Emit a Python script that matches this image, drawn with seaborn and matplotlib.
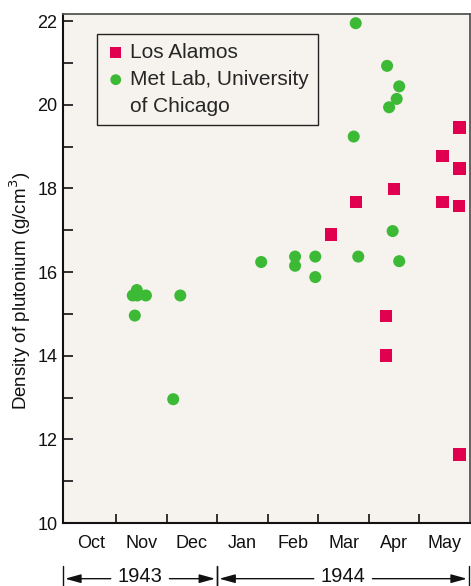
import matplotlib
matplotlib.use("Agg")
import matplotlib.pyplot as plt
import numpy as np
import pandas as pd
import seaborn as sns
from matplotlib.lines import Line2D

# x positions are in months: 0 = start of Oct 1943, 1 = start of Nov, ... 8 = end of May 1944
MONTHS = ["Oct", "Nov", "Dec", "Jan", "Feb", "Mar", "Apr", "May"]

los_alamos_x = [5.25, 5.75, 6.34, 6.34, 6.50, 7.46, 7.46, 7.79, 7.79, 7.78, 7.79]
los_alamos_y = [16.90, 17.68, 14.95, 14.00, 17.98, 18.78, 17.67, 19.46, 18.48, 17.58, 11.64]

metlab_x = [1.33, 1.41, 1.42, 1.59, 1.37, 2.27, 2.13, 3.87, 4.54, 4.54, 4.94, 4.94,
            5.70, 5.74, 5.79, 6.36, 6.40, 6.47, 6.55, 6.60, 6.60]
metlab_y = [15.44, 15.57, 15.44, 15.44, 14.96, 15.44, 12.96, 16.24, 16.37, 16.15, 16.37, 15.88,
            19.24, 21.95, 16.37, 20.93, 19.94, 16.98, 20.14, 16.26, 20.44]

YEARS = ["1943", "1944"]
year_start = [-0.05, 3.0]
year_end = [3.0, 7.98]

RED = "#e1004f"
GREEN = "#3cb935"
BG = "#f6f3ee"

sns.set_theme(style="ticks")
plt.rcParams["font.family"] = ["Liberation Sans", "DejaVu Sans"]

fig = plt.figure(figsize=(4.71, 5.86), dpi=100)
ax = fig.add_axes([63 / 471, 63 / 586, 407 / 471, 509 / 586])
ax.set_facecolor(BG)

la = pd.DataFrame({"x": los_alamos_x, "y": los_alamos_y})
ml = pd.DataFrame({"x": metlab_x, "y": metlab_y})

sns.scatterplot(data=la, x="x", y="y", ax=ax, marker="s", s=80, color=RED,
                edgecolor="none", label="Los Alamos", zorder=3)
sns.scatterplot(data=ml, x="x", y="y", ax=ax, marker="o", s=75, color=GREEN,
                edgecolor="none", label="Met Lab, University", zorder=3)

ax.set_xlim(-0.05, 8.0)
ax.set_ylim(10, 22.17)

ax.set_yticks(np.arange(10, 23, 2))
ax.set_yticks(np.arange(11, 23, 2), minor=True)
ax.tick_params(axis="y", which="both", direction="in", length=7, width=1.2,
               labelsize=13, pad=4, colors="#111")
ax.set_xticks(np.arange(1, 8))
ax.set_xticklabels([])
ax.set_xticks(np.arange(0.5, 8, 1), minor=True)
ax.set_xticklabels(MONTHS, minor=True)
ax.tick_params(axis="x", which="major", direction="in", length=6.5, width=1.2, colors="#111")
ax.tick_params(axis="x", which="minor", length=0, labelsize=13, pad=9, labelcolor="#111")

for side in ["left", "bottom"]:
    ax.spines[side].set_color("#111")
    ax.spines[side].set_linewidth(1.5)
for side in ["top", "right"]:
    ax.spines[side].set_color("#555")
    ax.spines[side].set_linewidth(1.3)

ax.set_xlabel("")
ax.set_ylabel("Density of plutonium (g/cm$^3$)", fontsize=13.5, color="#111")
ax.yaxis.set_label_coords(-0.074, 0.456)

# second line of the Met Lab label as its own row so the marker sits on the first line
handles, labels = ax.get_legend_handles_labels()
handles.append(Line2D([], [], linestyle="none", marker=None))
labels.append("of Chicago")
leg = ax.legend(handles, labels, loc="upper left", bbox_to_anchor=(0.0835, 0.961),
                fontsize=15, frameon=True, fancybox=False, handletextpad=0.25,
                handlelength=0.9, borderpad=0.45, labelspacing=0.38, borderaxespad=0,
                markerscale=0.9)
leg.get_frame().set_edgecolor("#222")
leg.get_frame().set_linewidth(1.0)
leg.get_frame().set_facecolor(BG)
leg.get_frame().set_alpha(1)

# year spans under the month labels
trans = ax.get_xaxis_transform()
y_arrow = -0.1094
y_text = -0.1159
gap = 0.58
arrow_kw = dict(arrowstyle="-|>,head_length=0.8,head_width=0.22", color="#111", lw=1.0,
                shrinkA=0, shrinkB=0)
for name, x0, x1 in zip(YEARS, year_start, year_end):
    xc = (x0 + x1) / 2
    ax.text(xc, y_text, name, transform=trans, ha="center", va="baseline",
            fontsize=14.5, color="#111", clip_on=False)
    ax.annotate("", xy=(x0 + 0.04, y_arrow), xytext=(xc - gap, y_arrow),
                xycoords=trans, textcoords=trans, arrowprops=arrow_kw, annotation_clip=False)
    ax.annotate("", xy=(x1 - 0.04, y_arrow), xytext=(xc + gap, y_arrow),
                xycoords=trans, textcoords=trans, arrowprops=arrow_kw, annotation_clip=False)
    for xb in (x0, x1):
        ax.plot([xb, xb], [-0.085, -0.13], transform=trans, color="#111", lw=1.0,
                clip_on=False)

fig.savefig("out.png", dpi=100)
